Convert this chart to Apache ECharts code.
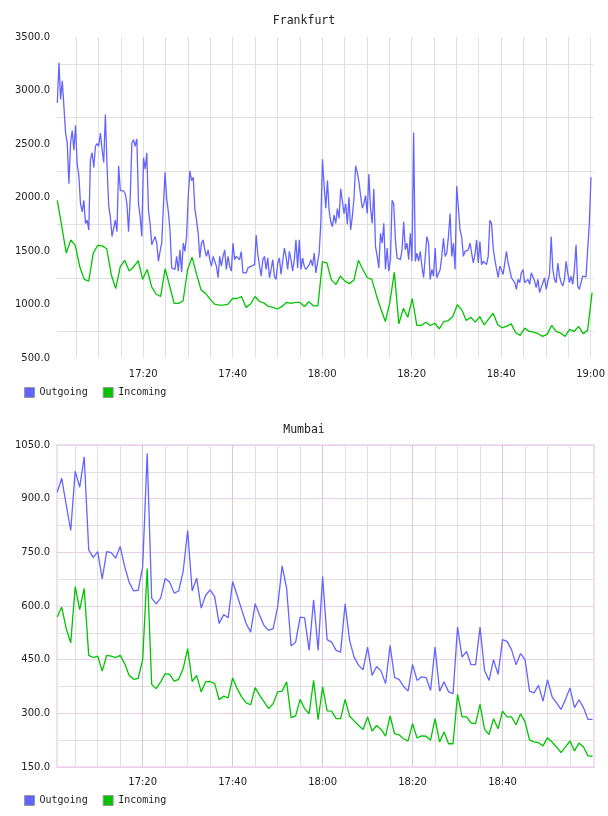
<!DOCTYPE html>
<html>
<head>
<meta charset="utf-8">
<script src="https://cdn.jsdelivr.net/npm/echarts@6/dist/echarts.min.js"></script>
<style>html,body{margin:0;padding:0;background:#fff}#c{width:608px;height:816px}</style>
</head>
<body>
<div id="c"></div>
<script>
// ---------- DATA ----------
const seriesNames = ['Outgoing', 'Incoming'];

// Frankfurt (times in seconds after 17:00:00)
const fraOutStart = 48, fraOutEnd = 7205;
const fraOutgoing = [
2883,3259,2917,3091,3097,2602,2510,2128,2510,2626,2443,2675,2311,2204,1942,1865,1973,1758,1788,1696,
2357,2418,2281,2479,2504,2479,2602,2449,2327,2776,2296,1927,1819,1635,1629,1788,1681,2296,2067,2076,
2060,2035,1942,1681,2004,2510,2541,2479,2547,1942,1819,1635,2372,2265,2418,1881,1758,1558,1542,1635,
1573,1404,1496,1573,1911,2235,1990,1865,1696,1342,1358,1327,1450,1312,1511,1302,1573,1496,1635,2004,
2250,2158,2189,1896,1788,1665,1435,1573,1604,
1511,1450,1511,1419,1358,1450,1404,1358,1250,1450,1358,1450,1511,1327,1450,1358,1312,1573,1419,1450,
1465,1419,1496,1296,1312,1296,1342,1327,1358,1342,1373,1650,1465,1450,1265,1419,1450,1327,1435,1250,
1327,1419,1265,1235,1388,1435,1281,1404,1527,1450,1327,1496,1419,1312,1419,1604,1342,1604,1327,1435,
1358,1327,1342,1373,1419,1358,1481,1296,1281,1481,1758,
2357,2112,1900,2158,1881,1773,1727,1835,1758,1896,1804,2082,2097,1850,1942,1750,2004,1696,1819,1988,
2296,2235,2143,2143,1900,1942,2019,1850,2220,1896,1758,2082,1542,1450,1342,1665,1573,1758,1327,1527,
1312,1419,1973,1942,1604,1435,1419,
1419,1511,1773,1511,1573,1419,1665,1404,2608,1404,1481,1404,1496,1358,1250,1250,1635,1573,1235,1327,
1265,1527,1250,1250,1327,1450,1619,1450,1481,1635,1850,1450,1573,1327,2106,1900,1696,1635,1450,1496,
1496,1511,1573,1481,1388,1465,1604,1388,1588,1373,1404,1404,1373,1450,1788,1758,1527,1419,1404,1250,
1358,1327,1281,1265,1496,1388,1327,1250,1250,1204,1142,1235,1204,1296,1327,1204,1188,1235,1188,1296,
1296,1219,1158,1235,1111,1158,1173,1250,1142,1219,1281,1635,1327,1235,1204,1388,1265,1204,1173,1235,
1404,1296,1204,1265,1188,1327,1558,1173,1142,1142,1265,1250,1258,1265,1758,2189
];
const fraInStart = 48, fraInEnd = 7220;
const fraIncoming = [
1973,1727,1481,1604,1552,1352,1235,1219,1481,1552,1548,1521,1281,1148,1352,1413,1312,1352,1410,1235,
1327,1164,1096,1075,1336,1173,1010,1010,1035,1327,1441,1281,1136,1104,1050,1004,995,995,1004,1056,
1056,1075,973,1004,1075,1028,1013,982,973,958,982,1019,1010,1019,1019,982,1025,988,988,1398,
1388,1228,1188,1265,1219,1195,1228,1413,1327,1250,1235,1087,958,841,1019,1302,819,964,881,1056,
804,804,835,804,825,773,841,850,887,998,952,850,881,835,887,810,865,918,810,782,
798,819,736,712,779,748,742,727,702,721,804,748,733,702,767,748,795,727,758,1112
];
const fraYTicks = [500, 1000, 1500, 2000, 2500, 3000, 3500];
const fraTimeLabels = ['17:20', '17:40', '18:00', '18:20', '18:40', '19:00'];

// Mumbai
const mumStart = 60, mumEnd = 7200;
const mumOutgoing = [
918,957,883,811,977,932,1017,757,736,752,676,752,749,734,766,710,666,642,644,710,
1027,622,606,622,677,667,636,642,697,811,642,678,594,630,645,626,551,576,567,668,
630,590,551,527,606,574,545,532,537,597,712,649,488,499,569,567,476,617,476,682,
506,499,476,471,606,504,457,434,422,485,406,431,418,383,490,400,395,375,362,437,
392,402,400,364,485,362,388,360,355,541,457,473,436,436,541,420,392,450,409,506,
501,478,436,467,450,362,357,378,334,394,347,329,311,339,371,316,338,316,283,283
];
const mumIncoming = [
569,597,537,497,654,590,649,462,456,460,418,462,460,456,462,439,406,395,398,450,
705,381,369,388,411,409,390,395,425,481,389,406,360,388,389,383,338,348,343,399,
369,346,329,324,372,350,332,313,327,360,362,388,288,293,339,313,299,392,282,374,
307,306,285,285,339,292,279,266,255,290,250,266,255,236,293,243,240,229,223,271,
231,237,236,225,285,220,248,215,215,353,290,290,273,271,325,255,241,285,257,306,
290,290,268,299,276,226,220,218,209,232,220,206,190,206,223,195,217,206,181,180
];
const mumYTicks = [150, 300, 450, 600, 750, 900, 1050];
const mumTimeLabels = ['17:20', '17:40', '18:00', '18:20', '18:40'];

// ---------- HELPERS ----------
function timed(values, start, end) {
  const step = (end - start) / (values.length - 1);
  return values.map((v, i) => [start + i * step, v]);
}
function labelToSec(s) { const p = s.split(':'); return ((+p[0]) * 60 + (+p[1]) - 17 * 60) * 60; }
function secToLabel(s) {
  const m = Math.round(s / 60) + 17 * 60;
  const h = Math.floor(m / 60), mm = m % 60;
  return h + ':' + (mm < 10 ? '0' : '') + mm;
}
function fiveMin(from, to) { const a = []; for (let s = from; s <= to; s += 300) a.push(s); return a; }

const mono = 'DejaVu Sans Mono';
const sans = 'DejaVu Sans';
const BLUE = '#6464ff', GREEN = '#00c400';
const GRAY = '#e0e0e0', PINK = '#ead0ea', PINKV = '#dcc6dc';

const chart = echarts.init(document.getElementById('c'), null, { renderer: 'canvas', width: 608, height: 816 });

const axisLabelY = { color: '#222', fontFamily: sans, fontSize: 10, margin: 7, formatter: v => v.toFixed(1) };

chart.setOption({
  animation: false,
  backgroundColor: '#fff',
  title: [
    { text: 'Frankfurt', left: 'center', top: 15, padding: 0, textStyle: { fontFamily: mono, fontSize: 11.5, fontWeight: 'normal', color: '#222' } },
    { text: 'Mumbai', left: 'center', top: 424, padding: 0, textStyle: { fontFamily: mono, fontSize: 11.5, fontWeight: 'normal', color: '#222' } }
  ],
  legend: [
    { data: seriesNames, left: 24, top: 387, padding: 0, icon: 'rect', itemWidth: 10, itemHeight: 10, itemGap: 15,
      itemStyle: { borderColor: '#999', borderWidth: 1 },
      textStyle: { fontFamily: mono, fontSize: 10, color: '#222' } },
    { data: seriesNames, left: 24, top: 795, padding: 0, icon: 'rect', itemWidth: 10, itemHeight: 10, itemGap: 15,
      itemStyle: { borderColor: '#999', borderWidth: 1 },
      textStyle: { fontFamily: mono, fontSize: 10, color: '#222' } }
  ],
  grid: [
    { left: 57, top: 37, width: 537, height: 321, show: false },
    { left: 57, top: 445, width: 537, height: 322, show: true, borderColor: '#efdfef', borderWidth: 2, backgroundColor: 'transparent' }
  ],
  xAxis: [
    { type: 'value', gridIndex: 0, min: 44, max: 7236,
      axisLine: { show: false },
      axisTick: { show: false, customValues: fiveMin(300, 7200) },
      axisLabel: { customValues: fraTimeLabels.map(labelToSec), formatter: secToLabel, color: '#222', fontFamily: sans, fontSize: 10, margin: 11, showMinLabel: true, showMaxLabel: true },
      splitLine: { show: true, lineStyle: { color: GRAY, width: 1 } } },
    { type: 'value', gridIndex: 1, min: 57, max: 7220,
      axisLine: { show: false },
      axisTick: { show: false, customValues: fiveMin(300, 6900) },
      axisLabel: { customValues: mumTimeLabels.map(labelToSec), formatter: secToLabel, color: '#222', fontFamily: sans, fontSize: 10, margin: 10 },
      splitLine: { show: true, lineStyle: { color: [GRAY, GRAY, GRAY, PINKV], width: 1 } } }
  ],
  yAxis: [
    { type: 'value', gridIndex: 0, min: 500, max: 3500, interval: 250,
      axisLine: { show: false }, axisTick: { show: false },
      axisLabel: Object.assign({ customValues: fraYTicks }, axisLabelY),
      splitLine: { show: true, lineStyle: { color: ['rgba(0,0,0,0)', GRAY], width: 1 } } },
    { type: 'value', gridIndex: 1, min: 150, max: 1050, interval: 75,
      axisLine: { show: false }, axisTick: { show: false },
      axisLabel: Object.assign({ customValues: mumYTicks }, axisLabelY),
      splitLine: { show: true, lineStyle: { color: [PINK, GRAY], width: 1 } } }
  ],
  series: [
    { name: 'Outgoing', type: 'line', xAxisIndex: 0, yAxisIndex: 0, data: timed(fraOutgoing, fraOutStart, fraOutEnd),
      showSymbol: false, symbol: 'none', color: BLUE, lineStyle: { width: 1.3, color: BLUE } },
    { name: 'Incoming', type: 'line', xAxisIndex: 0, yAxisIndex: 0, data: timed(fraIncoming, fraInStart, fraInEnd),
      showSymbol: false, symbol: 'none', color: GREEN, lineStyle: { width: 1.3, color: GREEN } },
    { name: 'Outgoing', type: 'line', xAxisIndex: 1, yAxisIndex: 1, data: timed(mumOutgoing, mumStart, mumEnd),
      showSymbol: false, symbol: 'none', color: BLUE, lineStyle: { width: 1.3, color: BLUE } },
    { name: 'Incoming', type: 'line', xAxisIndex: 1, yAxisIndex: 1, data: timed(mumIncoming, mumStart, mumEnd),
      showSymbol: false, symbol: 'none', color: GREEN, lineStyle: { width: 1.3, color: GREEN } }
  ]
});
</script>
</body>
</html>
